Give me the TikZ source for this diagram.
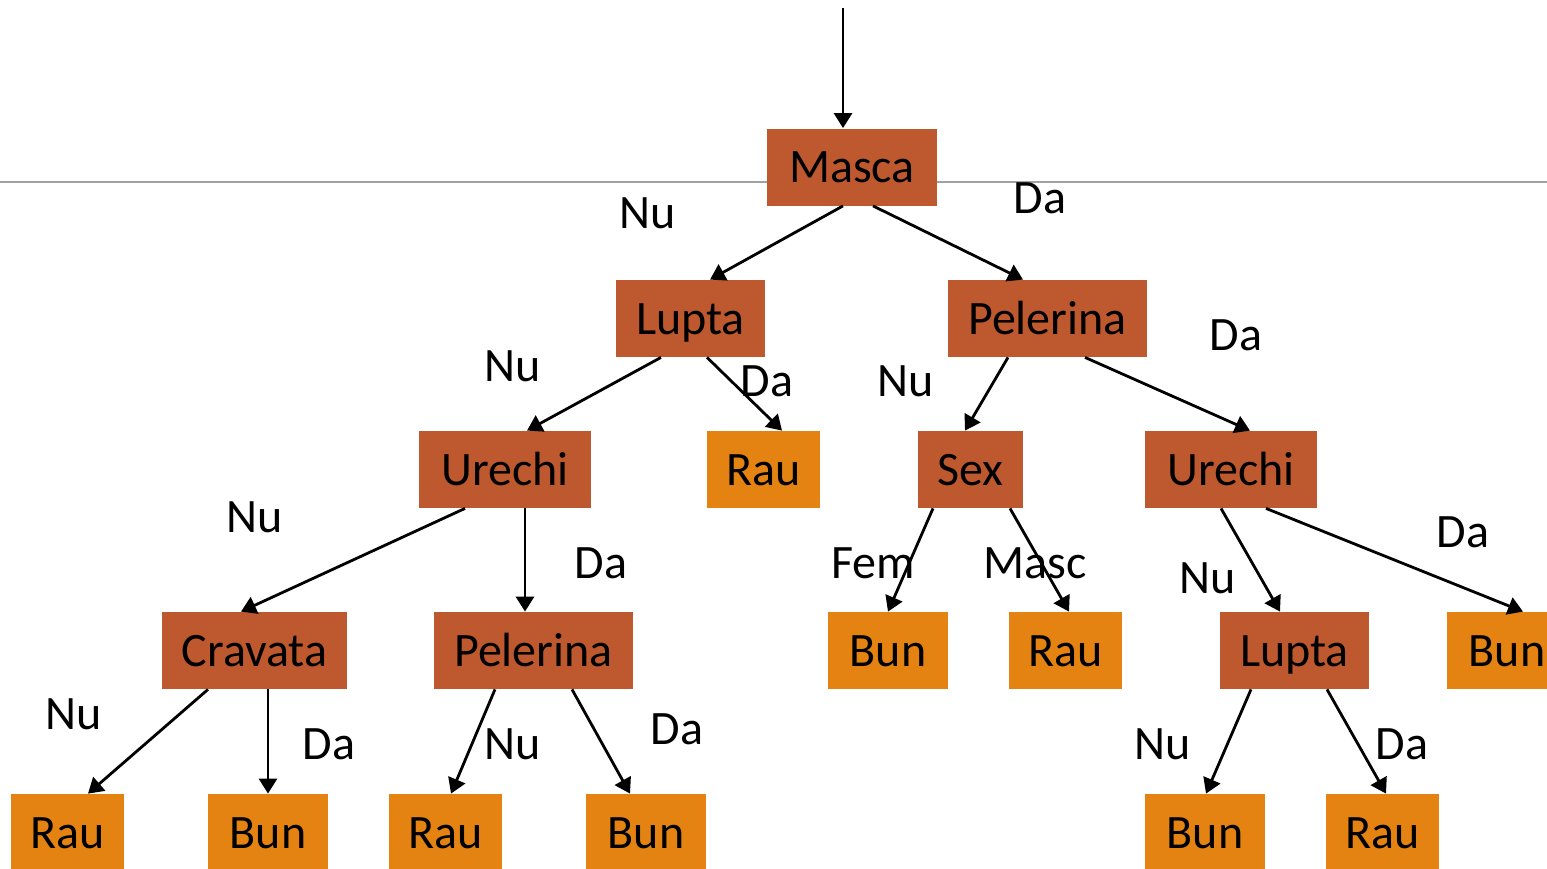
\documentclass[tikz,border=0pt]{standalone}
\usepackage{fontspec}
\setmainfont{Carlito}
\usepackage{xcolor}
\usetikzlibrary{positioning,calc,arrows.meta}
\definecolor{testfill}{RGB}{190,88,46}
\definecolor{leaffill}{RGB}{228,131,18}
\tikzset{
test/.style={shape=rectangle, fill=testfill, inner sep=0pt, minimum height=38.5pt, text height=15.5pt, text depth=0pt, font=\fontsize{24}{28}\selectfont},
leaf/.style={test, fill=leaffill},
answer/.style={anchor=base, inner sep=0pt, font=\fontsize{24}{28}\selectfont},
edge/.style={draw, line width=1.4pt, -{Triangle[length=7.5pt, width=9pt]}}
}

\begin{document}
\begin{tikzpicture}[x=0.5pt, y=-0.5pt]
    \useasboundingbox (0,0) rectangle (1547,868);
    \draw[color=black!37, line width=0.7pt] (0,182) -- (1547,182);

    % questions
    \node[test, minimum width=85pt] (masca) at (852,167) {Masca};
    \node[test, minimum width=74.5pt] (lupta) at (690.5,318.5) {Lupta};
    \node[test, minimum width=99.5pt] (pelerina) at (1047.5,318.5) {Pelerina};
    \node[test, minimum width=86pt] (urechi) at (505,469.5) {Urechi};
    \node[test, minimum width=52.5pt] (sex) at (970.5,469.5) {Sex};
    \node[test, minimum width=86pt] (urechiD) at (1231,469.5) {Urechi};
    \node[test, minimum width=92.5pt] (cravata) at (254.5,650.5) {Cravata};
    \node[test, minimum width=99.5pt] (pelerinaD) at (533.5,650.5) {Pelerina};
    \node[test, minimum width=74.5pt] (luptaD) at (1294.5,650.5) {Lupta};

    % answers
    \node[leaf, minimum width=56.5pt] (rau) at (763.5,469.5) {Rau};
    \node[leaf, minimum width=60pt] (bunF) at (888,650.5) {Bun};
    \node[leaf, minimum width=56.5pt] (rauM) at (1065.5,650.5) {Rau};
    \node[leaf, minimum width=60pt] (bunD) at (1507,650.5) {Bun};
    \node[leaf, minimum width=56.5pt] (rauA) at (67.5,832.5) {Rau};
    \node[leaf, minimum width=60pt] (bunA) at (268,832.5) {Bun};
    \node[leaf, minimum width=56.5pt] (rauB) at (445.5,832.5) {Rau};
    \node[leaf, minimum width=60pt] (bunB) at (646,832.5) {Bun};
    \node[leaf, minimum width=60pt] (bunC) at (1205,832.5) {Bun};
    \node[leaf, minimum width=56.5pt] (rauC) at (1382.5,832.5) {Rau};

    % branches
    \coordinate (start) at (843,8);
    \draw[edge] (start) -- ($(masca.north)+(-9,0)$);
    \draw[edge] ($(masca.south)+(-9,0)$) -- ($(lupta.north)+(19.5,0)$);
    \draw[edge] ($(masca.south)+(21,0)$) -- ($(pelerina.north)+(-24.5,0)$);
    \draw[edge] ($(lupta.south)+(-29.5,0)$) -- ($(urechi.north)+(22,0)$);
    \draw[edge] ($(lupta.south)+(16.5,0)$) -- ($(rau.north)+(18.5,0)$);
    \draw[edge] ($(pelerina.south)+(-39.5,0)$) -- ($(sex.north)+(-5.5,0)$);
    \draw[edge] ($(pelerina.south)+(37.5,0)$) -- ($(urechiD.north)+(19,0)$);
    \draw[edge] ($(urechi.south)+(-40,0)$) -- ($(cravata.north)+(-13.5,0)$);
    \draw[edge] ($(urechi.south)+(20,0)$) -- ($(pelerinaD.north)+(-8.5,0)$);
    \draw[edge] ($(sex.south)+(-37.5,0)$) -- (bunF.north);
    \draw[edge] ($(sex.south)+(39.5,0)$) -- ($(rauM.north)+(3.5,0)$);
    \draw[edge] ($(urechiD.south)+(-10,0)$) -- ($(luptaD.north)+(-14.5,0)$);
    \draw[edge] ($(urechiD.south)+(35,0)$) -- ($(bunD.north)+(16,0)$);
    \draw[edge] ($(cravata.south)+(-46.5,0)$) -- ($(rauA.north)+(20.5,0)$);
    \draw[edge] ($(cravata.south)+(13.5,0)$) -- (bunA.north);
    \draw[edge] ($(pelerinaD.south)+(-38.5,0)$) -- ($(rauB.north)+(5.5,0)$);
    \draw[edge] ($(pelerinaD.south)+(38.5,0)$) -- ($(bunB.north)+(-16,0)$);
    \draw[edge] ($(luptaD.south)+(-43.5,0)$) -- ($(bunC.north)+(1,0)$);
    \draw[edge] ($(luptaD.south)+(32.5,0)$) -- ($(rauC.north)+(3.5,0)$);

    % branch labels
    \node[answer] (l1) at (648,228) {Nu};
    \node[answer] (l2) at (1040,213) {Da};
    \node[answer] (l3) at (513,381) {Nu};
    \node[answer] (l4) at (767,396) {Da};
    \node[answer] (l5) at (906,396) {Nu};
    \node[answer] (l6) at (1236,350) {Da};
    \node[answer] (l7) at (255,532) {Nu};
    \node[answer] (l8) at (601,578) {Da};
    \node[answer] (l9) at (873,578) {Fem};
    \node[answer] (l10) at (1035,578) {Masc};
    \node[answer] (l11) at (1208,593) {Nu};
    \node[answer] (l12) at (1463,547) {Da};
    \node[answer] (l13) at (74,729) {Nu};
    \node[answer] (l14) at (329,759) {Da};
    \node[answer] (l15) at (513,759) {Nu};
    \node[answer] (l16) at (677,744) {Da};
    \node[answer] (l17) at (1163,759) {Nu};
    \node[answer] (l18) at (1402,759) {Da};
\end{tikzpicture}
\end{document}
